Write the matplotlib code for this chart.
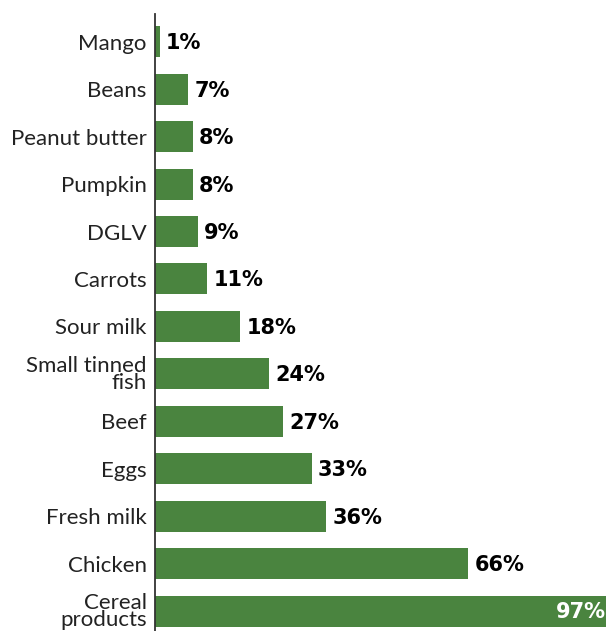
import matplotlib.pyplot as plt

categories = ['Mango', 'Beans', 'Peanut butter', 'Pumpkin', 'DGLV', 'Carrots',
              'Sour milk', 'Small tinned\nfish', 'Beef', 'Eggs', 'Fresh milk',
              'Chicken', 'Cereal\nproducts']
values = [1, 7, 8, 8, 9, 11, 18, 24, 27, 33, 36, 66, 97]

green = '#4a843f'

fig = plt.figure(figsize=(6.06, 6.31), dpi=100)
# axes from x=155px to right edge, y=14px to bottom
ax = fig.add_axes([155 / 606, 0, 451 / 606, (631 - 14) / 631])

pos = list(range(len(categories)))
ax.barh(pos, values, height=0.653, color=green, zorder=2)

ax.set_xlim(0, 95)
ax.set_ylim(12.42, -0.585)

for y, v in zip(pos, values):
    if v > 90:
        ax.text(94.9, y + 0.03, f'{v}%', ha='right', va='center', color='white',
                fontsize=15, fontweight='bold', family='DejaVu Sans')
    else:
        ax.text(v + 1.3, y + 0.03, f'{v}%', ha='left', va='center', color='black',
                fontsize=15, fontweight='bold', family='DejaVu Sans')

ax.set_yticks(pos)
ax.set_yticklabels(categories, fontsize=16, family='Lato',
                   color='#222222', linespacing=0.8)
ax.tick_params(axis='y', length=0, pad=6)
ax.set_xticks([])

for s in ['top', 'right', 'bottom']:
    ax.spines[s].set_visible(False)
ax.spines['left'].set_color('#333333')
ax.spines['left'].set_linewidth(1.3)

fig.savefig('out.png', dpi=100)
